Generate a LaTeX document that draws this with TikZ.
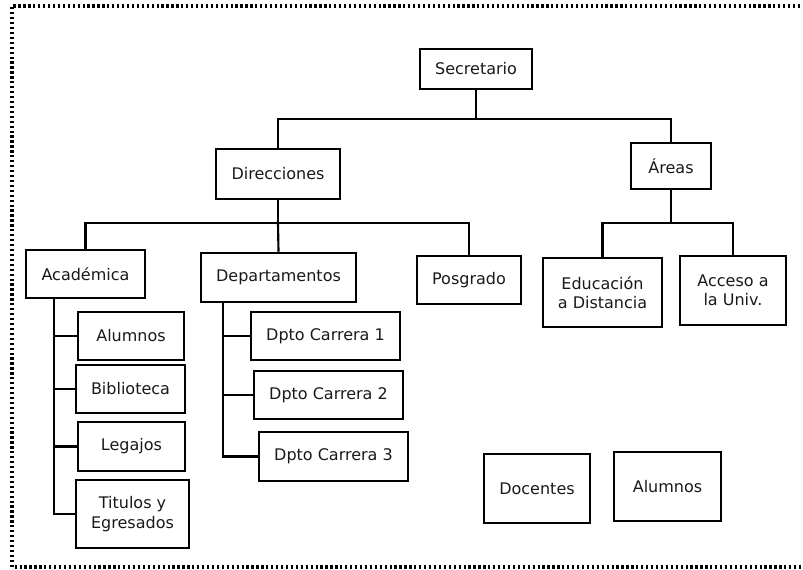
\documentclass[tikz,border=0pt]{standalone}
\usepackage{fontspec}
\setmainfont{DejaVu Sans}
\usepackage{tikz}
\usetikzlibrary{calc}

\begin{document}
\begin{tikzpicture}[x=0.75pt,y=-0.75pt,
                        caja/.style={draw,line width=1.9pt,inner sep=2pt,align=center,text=black!90,
                        font=\fontsize{12}{14.6}\selectfont},
                        tam/.style 2 args={minimum width=#1*0.75pt,minimum height=#2*0.75pt},
                        linea/.style={line width=1.6pt},
                        marco/.style={line width=2.4pt,dash pattern=on 1.7pt off 2pt}
                        ]
                        \def\Ea{21.75pt}  % eje de Academica
                        \def\Ed{17.25pt}  % eje de Departamentos

                        \useasboundingbox (0,0) rectangle (803,569);
                        \draw[marco] (810,6) -- (12,6) -- (12,567) -- (810,567);

                        % nivel 1 y 2
                        \node[caja,tam={112}{40}] (secretario) at (476,69) {Secretario};
                        \node[caja,tam={124}{50}] (direcciones) at (278,174) {Direcciones};
                        \node[caja,tam={80}{46}] (areas) at (671,166) {Áreas};

                        % direcciones
                        \node[caja,tam={119}{48}] (academica) at (85.5,274) {Académica};
                        \node[caja,tam={155}{49}] (departamentos) at (278.5,277.5) {Departamentos};
                        \node[caja,tam={104}{48}] (posgrado) at (469,280) {Posgrado};

                        % areas
                        \node[caja,tam={119}{69}] (educacion) at (602.5,292.5) {Educación\\a Distancia};
                        \node[caja,tam={106}{69}] (acceso) at (733,290.5) {Acceso a\\la Univ.};

                        % academica
                        \node[caja,tam={106}{48}] (alumnos) at (131,336) {Alumnos};
                        \node[caja,tam={109}{48}] (biblioteca) at (130.5,389) {Biblioteca};
                        \node[caja,tam={107}{49}] (legajos) at (131.5,446.5) {Legajos};
                        \node[caja,tam={113}{68}] (titulos) at (132.5,514) {Titulos y\\Egresados};

                        % departamentos
                        \node[caja,tam={149}{48}] (dpto1) at (325.5,336) {Dpto Carrera 1};
                        \node[caja,tam={149}{48}] (dpto2) at (328.5,395) {Dpto Carrera 2};
                        \node[caja,tam={149}{49}] (dpto3) at (333.5,456.5) {Dpto Carrera 3};

                        % sueltas
                        \node[caja,tam={106}{69}] (docentes) at (537,488.5) {Docentes};
                        \node[caja,tam={107}{69}] (alumnos2) at (667.5,486.5) {Alumnos};

                        % conexiones
                        \coordinate (bus1) at (476,119);
                        \coordinate (bus2) at (278,223);
                        \coordinate (bus3) at (671,223);
                        \draw[linea] (secretario.south) -- (bus1);
                        \draw[linea] (direcciones.north) |- (bus1) -| (areas.north);
                        \draw[linea] (direcciones.south) -- (bus2);
                        \draw[linea] (academica.north) |- (bus2) -| (posgrado.north);
                        \draw[linea] (departamentos.north) -- (bus2);
                        \draw[linea] (areas.south) -- (bus3);
                        \draw[linea] (educacion.north) |- (bus3) -| (acceso.north);

                        \coordinate (ejeA) at ([xshift=\Ea]academica.south west);
                        \draw[linea] (ejeA) |- (titulos.west);
                        \foreach \n in {alumnos,biblioteca,legajos}
                            \draw[linea] (\n.west) -- (\n.west -| ejeA);

                        \coordinate (ejeD) at ([xshift=\Ed]departamentos.south west);
                        \draw[linea] (ejeD) |- (dpto3.west);
                        \foreach \n in {dpto1,dpto2}
                            \draw[linea] (\n.west) -- (\n.west -| ejeD);
\end{tikzpicture}
\end{document}
